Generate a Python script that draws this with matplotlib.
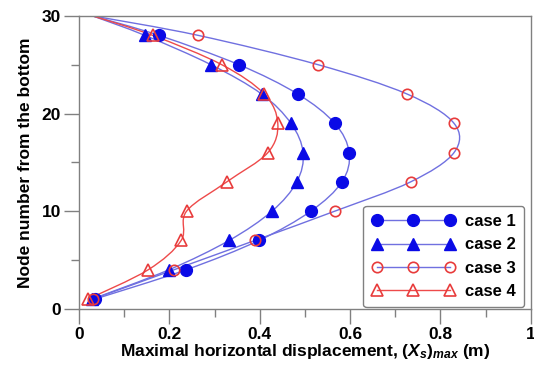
import numpy as np
import matplotlib
matplotlib.use("Agg")
import matplotlib.pyplot as plt
from matplotlib.path import Path
from matplotlib.patches import PathPatch
from matplotlib.lines import Line2D
from matplotlib.ticker import MultipleLocator

plt.rcParams['font.family'] = ['Liberation Sans', 'DejaVu Sans']
plt.rcParams['mathtext.fontset'] = 'custom'
plt.rcParams['mathtext.it'] = 'Liberation Sans:bold:italic'
plt.rcParams['mathtext.rm'] = 'Liberation Sans:bold'

# node numbers carrying markers
nodes = [1, 4, 7, 10, 13, 16, 19, 22, 25, 28]
top_node = 30
top_disp = 0.03

case1 = [0.035, 0.237, 0.398, 0.513, 0.582, 0.598, 0.566, 0.484, 0.354, 0.177]
case2 = [0.029, 0.199, 0.332, 0.427, 0.482, 0.496, 0.469, 0.404, 0.292, 0.146]
case3 = [0.031, 0.210, 0.389, 0.566, 0.734, 0.830, 0.830, 0.726, 0.529, 0.264]
case4 = [0.020, 0.153, 0.226, 0.238, 0.327, 0.418, 0.440, 0.410, 0.316, 0.163]

labels = ['case 1', 'case 2', 'case 3', 'case 4']

blue_line = '#7070e0'
red_line = '#ee4a4a'
blue = '#0a0ae6'
red = '#e83c3c'


def smooth_path(xs, ys):
    # catmull-rom through the points, drawn as bezier curves
    p = np.column_stack([xs, ys]).astype(float)
    ext = np.vstack([p[0], p, p[-1]])
    verts = [p[0]]
    codes = [Path.MOVETO]
    for i in range(1, len(ext) - 2):
        p0, p1, p2, p3 = ext[i - 1], ext[i], ext[i + 1], ext[i + 2]
        verts += [p1 + (p2 - p0) / 6, p2 - (p3 - p1) / 6, p2]
        codes += [Path.CURVE4] * 3
    return Path(verts, codes)


fig = plt.figure(figsize=(5.34, 3.69), dpi=100)
ax = fig.add_axes([0.148, 0.163, 0.846, 0.794])

styles = [
    (case1, blue_line, dict(marker='o', ms=8.5, mfc=blue, mec=blue)),
    (case2, blue_line, dict(marker='^', ms=8, mfc=blue, mec=blue)),
    (case3, blue_line, dict(marker='o', ms=7.5, mfc='none', mec=red, mew=1.2)),
    (case4, red_line, dict(marker='^', ms=8, mfc='none', mec=red, mew=1.2)),
]

handles = []
for (vals, lc, mk), lab in zip(styles, labels):
    xs = vals + [top_disp]
    ys = nodes + [top_node]
    ax.add_patch(PathPatch(smooth_path(xs, ys), fill=False, edgecolor=lc, lw=1.0, zorder=2))
    ax.plot(vals, nodes, ls='none', zorder=3, **mk)
    handles.append(Line2D([], [], color=lc, lw=1.0, **mk))

ax.set_xlim(0, 1)
ax.set_ylim(0, 30)
ax.xaxis.set_minor_locator(MultipleLocator(0.1))
ax.yaxis.set_major_locator(MultipleLocator(10))
ax.yaxis.set_minor_locator(MultipleLocator(5))
ax.set_xticks([0, 0.2, 0.4, 0.6, 0.8, 1])
ax.set_xticklabels(['0', '0.2', '0.4', '0.6', '0.8', '1'])

for s in ax.spines.values():
    s.set_color('#808080')
    s.set_linewidth(1.0)

ax.tick_params(which='major', direction='out', length=11, width=1.0, color='#808080',
               labelsize=12.5, pad=2)
ax.tick_params(which='minor', direction='out', length=6, width=1.0, color='#808080')
for t in ax.get_xticklabels() + ax.get_yticklabels():
    t.set_fontweight('bold')

ax.set_xlabel(r'Maximal horizontal displacement, $(X_s)_{max}$ (m)',
              fontsize=12.5, fontweight='bold', labelpad=0)
ax.set_ylabel('Node number from the bottom', fontsize=12.5, fontweight='bold', labelpad=6)

leg = ax.legend(handles, labels, loc='lower right', bbox_to_anchor=(0.985, 0.005),
                borderaxespad=0, numpoints=3, handlelength=5.0, handletextpad=0.6,
                labelspacing=0.5, borderpad=0.5, fancybox=True, framealpha=1,
                prop={'weight': 'bold', 'size': 12})
leg.get_frame().set_edgecolor('#808080')
leg.get_frame().set_linewidth(1.0)

fig.savefig('out.png', dpi=100)
